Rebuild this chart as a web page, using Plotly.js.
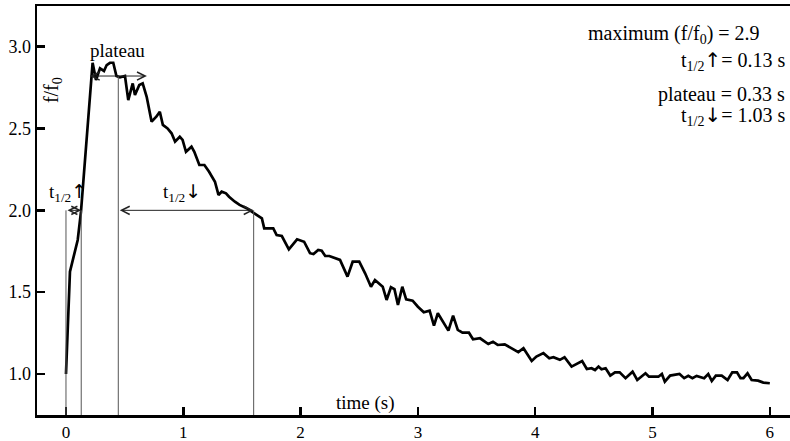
<!DOCTYPE html>
<html>
<head>
<meta charset="utf-8">
<script src="https://cdn.plot.ly/plotly-3.0.1.min.js"></script>
<style>html,body{margin:0;padding:0;background:#fff;}#chart{width:790px;height:441px;}</style>
</head>
<body>
<div id="chart"></div>
<script>
var time = [0, 0.026, 0.034, 0.10, 0.128, 0.227, 0.256, 0.29, 0.324, 0.347, 0.375, 0.403, 0.43, 0.46, 0.503, 0.531, 0.569, 0.588, 0.625, 0.654,
  0.688, 0.73, 0.77, 0.80, 0.826, 0.866, 0.90, 0.93, 0.97, 0.994, 1.023, 1.07, 1.094, 1.137, 1.18, 1.22, 1.27, 1.30, 1.327, 1.364,
  1.39, 1.44, 1.48, 1.54, 1.58, 1.625, 1.67, 1.69, 1.767, 1.796, 1.84, 1.90, 1.97, 2.03, 2.08, 2.11, 2.15, 2.18, 2.21, 2.245,
  2.336, 2.40, 2.444, 2.50, 2.55, 2.60, 2.634, 2.70, 2.733, 2.77, 2.80, 2.83, 2.867, 2.90, 2.955, 3.00, 3.05, 3.10, 3.137, 3.17,
  3.26, 3.30, 3.34, 3.38, 3.435, 3.47, 3.53, 3.60, 3.64, 3.68, 3.74, 3.80, 3.856, 3.90, 3.97, 4.01, 4.07, 4.12, 4.155, 4.21,
  4.25, 4.31, 4.40, 4.44, 4.48, 4.51, 4.54, 4.565, 4.60, 4.64, 4.68, 4.72, 4.77, 4.83, 4.87, 4.94, 4.97, 5.05, 5.08, 5.105,
  5.15, 5.23, 5.27, 5.305, 5.34, 5.376, 5.44, 5.475, 5.505, 5.54, 5.59, 5.64, 5.68, 5.72, 5.75, 5.775, 5.81, 5.845, 5.90, 5.945, 6.0];
var ratio = [1.0, 1.574, 1.625, 1.819, 1.992, 2.902, 2.797, 2.868, 2.852, 2.888, 2.902, 2.902, 2.821, 2.813, 2.821, 2.674, 2.776, 2.705, 2.766, 2.776,
  2.694, 2.542, 2.572, 2.603, 2.522, 2.501, 2.471, 2.420, 2.450, 2.430, 2.358, 2.389, 2.358, 2.277, 2.277, 2.236, 2.175, 2.094, 2.114, 2.104,
  2.083, 2.053, 2.033, 2.013, 1.992, 1.972, 1.951, 1.890, 1.890, 1.849, 1.843, 1.762, 1.823, 1.808, 1.738, 1.733, 1.758, 1.753, 1.721, 1.721,
  1.697, 1.595, 1.686, 1.686, 1.615, 1.533, 1.574, 1.533, 1.452, 1.530, 1.518, 1.422, 1.533, 1.456, 1.448, 1.411, 1.377, 1.387, 1.295, 1.371,
  1.265, 1.356, 1.269, 1.252, 1.252, 1.212, 1.218, 1.183, 1.197, 1.177, 1.181, 1.157, 1.133, 1.157, 1.079, 1.106, 1.127, 1.096, 1.102, 1.086,
  1.102, 1.045, 1.079, 1.030, 1.035, 1.024, 1.045, 1.029, 1.035, 0.990, 1.010, 1.010, 0.974, 1.014, 0.963, 1.004, 0.983, 0.983, 1.0, 0.953,
  0.990, 1.0, 0.974, 0.988, 0.974, 0.988, 0.974, 1.0, 0.957, 0.990, 0.990, 0.963, 1.010, 1.010, 0.974, 0.974, 1.004, 0.963, 0.959, 0.947, 0.943];

var xTicks = [0, 1, 2, 3, 4, 5, 6];
var xTickLabels = ['0', '1', '2', '3', '4', '5', '6'];
var yTicks = [1.0, 1.5, 2.0, 2.5, 3.0];
var yTickLabels = ['1.0', '1.5', '2.0', '2.5', '3.0'];

// derived measures
var halfLevel = 2.0;
var tRiseStart = 0, tRiseEnd = 0.13;
var plateauEnd = 0.446, plateauLevel = 2.821;
var tDecayEnd = 1.60;
var plateauArrow = [0.19, 0.69];

var UP = '<span style="font-family:DejaVu Sans">↑</span>';
var DOWN = '<span style="font-family:DejaVu Sans">↓</span>';

var stats = [
  'maximum (f/f<sub>0</sub>) = 2.9',
  't<sub>1/2</sub>' + UP + '= 0.13 s',
  'plateau = 0.33 s',
  't<sub>1/2</sub>' + DOWN + '= 1.03 s'
];

var serif = 'Liberation Serif, Times New Roman, serif';
var yBottom = 0.749;

function vline(x, y1) {
  return {type: 'line', xref: 'x', yref: 'y', x0: x, x1: x, y0: yBottom, y1: y1,
    line: {color: '#555', width: 1}};
}
function harrow(x0, x1, y) {
  return {xref: 'x', yref: 'y', axref: 'x', ayref: 'y', x: x1, y: y, ax: x0, ay: y,
    text: '', showarrow: true, arrowside: 'end+start', arrowhead: 5, startarrowhead: 5,
    arrowsize: 1.6, startarrowsize: 1.6, arrowwidth: 1, arrowcolor: '#222', standoff: 0, startstandoff: 0};
}
function label(text, x, y, xanchor, size, angle) {
  return {xref: 'x', yref: 'y', x: x, y: y, text: text, showarrow: false,
    xanchor: xanchor || 'center', yanchor: 'middle', textangle: angle || 0,
    font: {family: serif, size: size || 19, color: '#000'}};
}

var data = [{
  x: time, y: ratio, type: 'scatter', mode: 'lines',
  line: {color: '#000', width: 2.7}, hoverinfo: 'skip'
}];

var layout = {
  width: 790, height: 441,
  margin: {l: 37, r: 0, t: 6, b: 26},
  paper_bgcolor: '#fff', plot_bgcolor: '#fff',
  showlegend: false,
  xaxis: {
    range: [-0.247, 6.172], tickvals: xTicks, ticktext: xTickLabels,
    ticks: 'inside', ticklen: 8, tickwidth: 2.5, tickcolor: '#000',
    showline: true, linewidth: 2.5, linecolor: '#000', mirror: true,
    showgrid: false, zeroline: false,
    tickfont: {family: serif, size: 17, color: '#000'}
  },
  yaxis: {
    range: [yBottom, 3.249], tickvals: yTicks, ticktext: yTickLabels,
    ticks: 'inside', ticklen: 8, tickwidth: 2.5, tickcolor: '#000',
    showline: true, linewidth: 2.5, linecolor: '#000',
    showgrid: false, zeroline: false,
    tickfont: {family: serif, size: 18, color: '#000'}
  },
  shapes: [
    vline(tRiseStart, halfLevel),
    vline(tRiseEnd, halfLevel),
    vline(plateauEnd, plateauLevel),
    vline(tDecayEnd, halfLevel)
  ],
  annotations: [
    harrow(tRiseStart, tRiseEnd, halfLevel),
    harrow(plateauEnd, tDecayEnd, halfLevel),
    harrow(plateauArrow[0], plateauArrow[1], plateauLevel),
    label('plateau', 0.443, 2.98, 'center', 19),
    label('t<sub>1/2</sub>' + UP, -0.165, 2.11, 'left', 19),
    label('t<sub>1/2</sub>' + DOWN, 0.81, 2.11, 'left', 19),
    label('f/f<sub>0</sub>', -0.119, 2.735, 'center', 20, -90),
    label('time (s)', 2.557, 0.825, 'center', 19),
    label(stats[0], 5.934, 3.075, 'right', 20),
    label(stats[1], 6.147, 2.91, 'right', 20),
    label(stats[2], 6.147, 2.71, 'right', 20),
    label(stats[3], 6.147, 2.575, 'right', 20)
  ]
};

Plotly.newPlot('chart', data, layout, {staticPlot: true, displayModeBar: false});
</script>
</body>
</html>
